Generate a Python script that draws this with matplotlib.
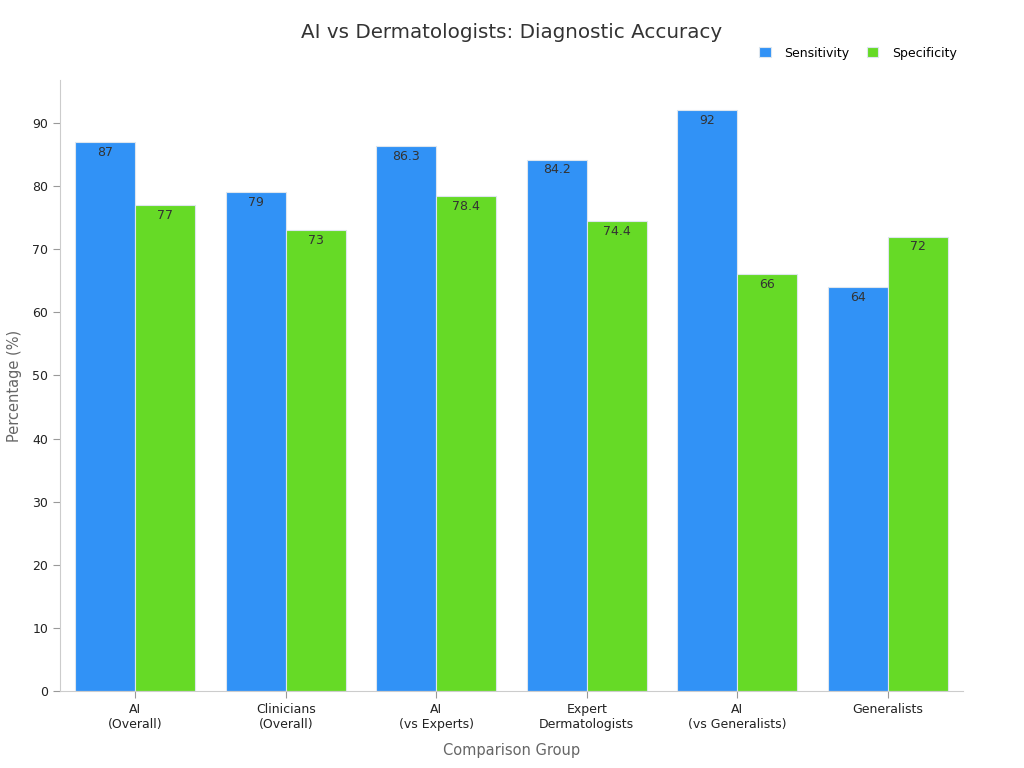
import matplotlib.pyplot as plt
import numpy as np

groups = ['AI\n(Overall)', 'Clinicians\n(Overall)', 'AI\n(vs Experts)',
          'Expert\nDermatologists', 'AI\n(vs Generalists)', 'Generalists']
sensitivity = [87, 79, 86.3, 84.2, 92, 64]
specificity = [77, 73, 78.4, 74.4, 66, 72]
sens_labels = ['87', '79', '86.3', '84.2', '92', '64']
spec_labels = ['77', '73', '78.4', '74.4', '66', '72']

blue = '#3192F6'
green = '#66DA26'

fig = plt.figure(figsize=(10.24, 7.68), dpi=100)
ax = fig.add_axes([60/1024, 1-691/768, 903/1024, 611/768])

x = np.arange(len(groups))
w = 0.4
b1 = ax.bar(x - w/2, sensitivity, w, color=blue, edgecolor='#dde6ee', linewidth=0.8, label='Sensitivity')
b2 = ax.bar(x + w/2, specificity, w, color=green, edgecolor='#dde6ee', linewidth=0.8, label='Specificity')

for bars, labs in [(b1, sens_labels), (b2, spec_labels)]:
    for b, lab in zip(bars, labs):
        ax.text(b.get_x() + b.get_width()/2, b.get_height() - 0.6, lab,
                ha='center', va='top', fontsize=9, color='#333333')

ax.set_xlim(-0.5, 5.5)
ax.set_ylim(0, 96.8)
ax.set_yticks(range(0, 91, 10))
ax.set_xticks(x)
ax.set_xticklabels(groups, fontsize=9, color='#222222')
ax.tick_params(axis='y', labelsize=9, labelcolor='#222222', color='#999999', length=5)
ax.tick_params(axis='x', color='#999999', length=5)
for s in ['top', 'right']:
    ax.spines[s].set_visible(False)
for s in ['left', 'bottom']:
    ax.spines[s].set_color('#cccccc')

ax.set_xlabel('Comparison Group', fontsize=10.5, color='#666666', labelpad=9)
ax.set_ylabel('Percentage (%)', fontsize=10.5, color='#666666', labelpad=7)

fig.text(0.5, 1-33/768, 'AI vs Dermatologists: Diagnostic Accuracy', ha='center', va='center',
         fontsize=14.3, color='#333333')

ax.legend(loc='center right', bbox_to_anchor=(968/1024, 1-53/768), bbox_transform=fig.transFigure,
          ncol=2, frameon=False, fontsize=9, handlelength=0.9, handleheight=0.9,
          columnspacing=1.4, handletextpad=1.1)

fig.savefig('out.png', dpi=100)
